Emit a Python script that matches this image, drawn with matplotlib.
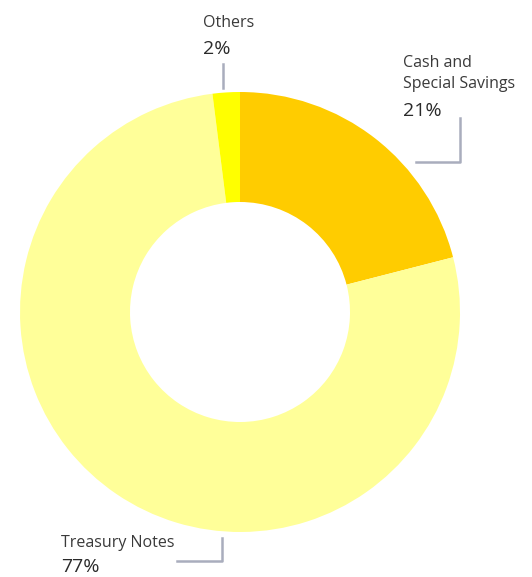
import matplotlib.pyplot as plt
from matplotlib.lines import Line2D

labels = ['Cash and\nSpecial Savings', 'Treasury Notes', 'Others']
values = [21, 77, 2]
pct_text = ['21%', '77%', '2%']
colors = ['#FFCC00', '#FFFF99', '#FFFF00']

W, H = 532, 577
fig = plt.figure(figsize=(W / 100, H / 100), dpi=100)


def px(x, y):
    return x / W, 1 - y / H


# donut: centre (240, 312), outer radius 220 px
ax = fig.add_axes([20 / W, 1 - 532 / H, 440 / W, 440 / H])
ax.pie(values, colors=colors, startangle=90, counterclock=False, radius=1,
       wedgeprops=dict(width=0.5, linewidth=0))
ax.set_xlim(-1, 1)
ax.set_ylim(-1, 1)
ax.set_aspect('equal')
ax.axis('off')

font = ['Open Sans', 'DejaVu Sans']
lab_col = '#3a3a3a'
line_col = '#a9adbd'

# label anchors (left x, baseline y of first line, gap to pct) in pixels
anchors = [(403, 67, 28), (61, 547, 25), (203, 27, 27)]
for lab, pct, (x, y, gap) in zip(labels, pct_text, anchors):
    lines = lab.split('\n')
    for i, ln in enumerate(lines):
        fig.text(*px(x, y + i * 21), ln, fontsize=11.5, family=font,
                 color=lab_col, va='baseline', ha='left')
    fig.text(*px(x, y + (len(lines) - 1) * 21 + gap), pct, fontsize=14,
             family=font, color='#2a2a2a', va='baseline', ha='left')

# leader lines
leaders = [
    [(460, 118), (460, 162), (416, 162)],
    [(222, 538), (222, 561), (177, 561)],
    [(223, 64), (223, 88)],
]
for pts in leaders:
    xs = [px(*p)[0] for p in pts]
    ys = [px(*p)[1] for p in pts]
    fig.add_artist(Line2D(xs, ys, color=line_col, lw=1.8,
                          transform=fig.transFigure))

fig.savefig('out.png', dpi=100)
